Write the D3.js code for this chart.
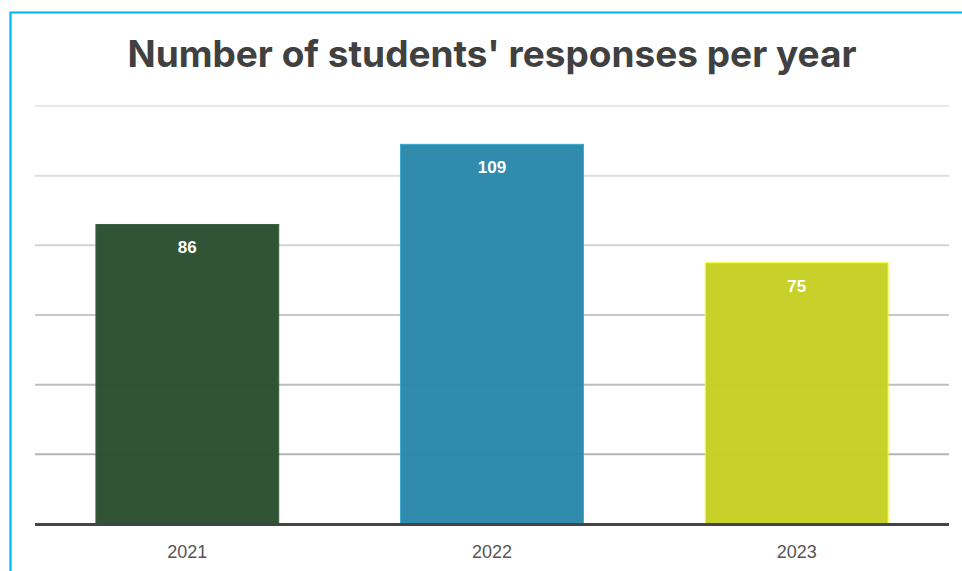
<!DOCTYPE html>
<html>
<head>
<meta charset="utf-8">
<script src="https://cdn.jsdelivr.net/npm/d3@7/dist/d3.min.js"></script>
<style>
  html, body { margin: 0; padding: 0; background: #ffffff; }
  svg { display: block; }
</style>
</head>
<body>
<svg id="chart" width="962" height="571"></svg>
<script>
// Survey responses collected each year
const years = ["2021", "2022", "2023"];
const responses = [86, 109, 75];
const barColors = ["#2a4e2f", "#2a87a9", "#c5cf22"];
const gridTicks = [0, 20, 40, 60, 80, 100, 120];
const titleText = "Number of students' responses per year";

const svg = d3.select("#chart");
const W = 962, H = 571;
const plotLeft = 35, plotRight = 949, plotTop = 105, plotBottom = 524;

// Frame lines along the top and left edge
svg.append("path")
  .attr("d", `M10.5,${H} L10.5,12.5 L${W},12.5`)
  .attr("fill", "none")
  .attr("stroke", "#00b2ef")
  .attr("stroke-width", 2.2);

svg.append("text")
  .attr("x", (plotLeft + plotRight) / 2)
  .attr("y", 67)
  .attr("text-anchor", "middle")
  .attr("font-family", "Inter, 'Liberation Sans', Arial, sans-serif")
  .attr("font-weight", "bold")
  .attr("font-size", 37)
  .attr("fill", "#404040")
  .text(titleText);

const x = d3.scaleBand()
  .domain(years)
  .range([plotLeft, plotRight])
  .paddingInner(0.4)
  .paddingOuter(0.2);

const y = d3.scaleLinear()
  .domain([0, 120.3])
  .range([plotBottom, plotTop]);

// Horizontal grid lines, fading lighter toward the top
const gridShade = d3.scaleLinear().domain([20, 120]).range(["#b4b4b4", "#e8e8e8"]);
svg.append("g")
  .selectAll("line")
  .data(gridTicks.filter(t => t > 0))
  .join("line")
  .attr("x1", plotLeft)
  .attr("x2", plotRight)
  .attr("y1", d => y(d))
  .attr("y2", d => y(d))
  .attr("stroke", d => gridShade(d))
  .attr("stroke-width", 2);

const data = years.map((yr, i) => ({ year: yr, value: responses[i], color: barColors[i] }));

svg.append("g")
  .selectAll("rect")
  .data(data)
  .join("rect")
  .attr("x", d => x(d.year))
  .attr("y", d => y(d.value))
  .attr("width", x.bandwidth())
  .attr("height", d => y(0) - y(d.value))
  .attr("fill", d => d.color)
  .attr("fill-opacity", 0.97)
  .attr("stroke", d => d3.color(d.color).brighter(0.6))
  .attr("stroke-width", 1);

// Value labels inside the top of each bar
svg.append("g")
  .selectAll("text")
  .data(data)
  .join("text")
  .attr("x", d => x(d.year) + x.bandwidth() / 2)
  .attr("y", d => y(d.value) + 29)
  .attr("text-anchor", "middle")
  .attr("font-family", "'Liberation Sans', Arial, sans-serif")
  .attr("font-weight", "bold")
  .attr("font-size", 17)
  .attr("fill", "#ffffff")
  .text(d => d.value);

// Baseline
svg.append("line")
  .attr("x1", plotLeft)
  .attr("x2", plotRight)
  .attr("y1", y(0) + 0.5)
  .attr("y2", y(0) + 0.5)
  .attr("stroke", "#444444")
  .attr("stroke-width", 3);

// Category axis
const xAxis = svg.append("g")
  .attr("transform", `translate(0,${plotBottom})`)
  .call(d3.axisBottom(x).tickSize(0).tickPadding(21));
xAxis.select(".domain").remove();
xAxis.selectAll("text")
  .attr("font-family", "'Liberation Sans', Arial, sans-serif")
  .attr("font-size", 18)
  .attr("fill", "#555555");
</script>
</body>
</html>
